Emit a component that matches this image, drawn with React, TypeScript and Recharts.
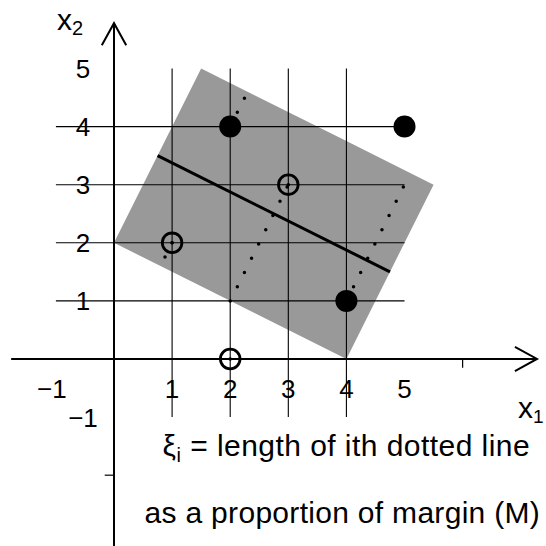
import { Area, ComposedChart, Line, Scatter, XAxis, YAxis } from "recharts"

// gray margin band, range area: corners (0,2) (1.5,5) (5.5,3) (4,0)
const bandX = [0, 1.5, 4, 5.5]
const bandLow = [2, 1.25, 0, 3]
const bandHigh = [2, 5, 3.75, 3]

// separating line
const boundaryX = [0.75, 4.75]
const boundaryY = [3.5, 1.5]

// points
const filledX = [2, 5, 4]
const filledY = [4, 4, 1]
const openX = [1, 3, 2]
const openY = [2, 3, 0]

// dotted slack segments, start -> end
const slackX0 = [2, 2, 1, 4]
const slackY0 = [4, 1, 2, 1]
const slackX1 = [2.3, 3, 0.8, 5.1]
const slackY1 = [4.6, 3, 1.6, 3.2]

// grid
const gridX = [1, 2, 3, 4]
const gridY = [1, 2, 3, 4]
const gridFrom = -1
const gridTo = 5

// tick labels and small tick marks
const xTicks = [-1, 1, 2, 3, 4, 5]
const yTicks = [5, 4, 3, 2, 1, -1]
const xMarks = [6]
const yMarks = [-2]

const noteLine1 = " = length of ith dotted line"
const noteLine2 = "as a proportion of margin (M)"

const X_DOMAIN = [-1.962, 7.435]
const Y_DOMAIN = [-3.219, 6.179]
const X_AXIS = [-1.77, 7.28]
const Y_AXIS = [-3.3, 5.78]
const NOTE_X = 3.93
const NOTE_Y = [-1.67, -2.82]

const FONT = "'Liberation Sans', Arial, Helvetica, sans-serif"

const fmt = (v: number) => (v < 0 ? `\u2212${-v}` : `${v}`)
const seg = (x0: number, y0: number, x1: number, y1: number) => [
    { x: x0, y: y0 },
    { x: x1, y: y1 },
]

const lineCommon = { dot: false, activeDot: false, isAnimationActive: false } as const

export default function App() {
    const band = bandX.map((x, i) => ({ x, band: [bandLow[i], bandHigh[i]] }))
    const boundary = boundaryX.map((x, i) => ({ x, y: boundaryY[i] }))
    const filled = filledX.map((x, i) => ({ x, y: filledY[i] }))
    const open = openX.map((x, i) => ({ x, y: openY[i] }))
    const xLabels = xTicks.map(x => ({ x, y: 0 }))
    const yLabels = yTicks.map(y => ({ x: 0, y }))
    const ah = 0.38
    const aw = 0.21

    return (
        <div style={{ position: "absolute", left: 0, top: 0, width: 546, height: 546, background: "#fff" }}>
            <ComposedChart width={546} height={546} margin={{ top: 0, right: 0, bottom: 0, left: 0 }}>
                <XAxis type="number" dataKey="x" domain={X_DOMAIN} allowDataOverflow hide />
                <YAxis type="number" dataKey="y" domain={Y_DOMAIN} allowDataOverflow hide />

                <Area
                    data={band}
                    dataKey="band"
                    type="linear"
                    fill="#999999"
                    fillOpacity={1}
                    stroke="none"
                    isAnimationActive={false}
                    activeDot={false}
                />

                {gridX.map(v => (
                    <Line key={"gx" + v} data={seg(v, gridFrom, v, gridTo)} dataKey="y" stroke="#000" strokeWidth={1.1} {...lineCommon} />
                ))}
                {gridY.map(v => (
                    <Line key={"gy" + v} data={seg(gridFrom, v, gridTo, v)} dataKey="y" stroke="#000" strokeWidth={1.1} {...lineCommon} />
                ))}

                {/* axes with arrow heads */}
                <Line data={seg(X_AXIS[0], 0, X_AXIS[1], 0)} dataKey="y" stroke="#000" strokeWidth={2} {...lineCommon} />
                <Line
                    data={[{ x: X_AXIS[1] - ah, y: aw }, { x: X_AXIS[1], y: 0 }, { x: X_AXIS[1] - ah, y: -aw }]}
                    dataKey="y" stroke="#000" strokeWidth={2} {...lineCommon}
                />
                <Line data={seg(0, Y_AXIS[0], 0, Y_AXIS[1])} dataKey="y" stroke="#000" strokeWidth={2} {...lineCommon} />
                <Line
                    data={[{ x: -aw, y: Y_AXIS[1] - ah }, { x: 0, y: Y_AXIS[1] }, { x: aw, y: Y_AXIS[1] - ah }]}
                    dataKey="y" stroke="#000" strokeWidth={2} {...lineCommon}
                />
                {xMarks.map(v => (
                    <Line key={"xm" + v} data={seg(v, 0, v, -0.15)} dataKey="y" stroke="#000" strokeWidth={1.2} {...lineCommon} />
                ))}
                {yMarks.map(v => (
                    <Line key={"ym" + v} data={seg(-0.16, v, 0, v)} dataKey="y" stroke="#000" strokeWidth={1.2} {...lineCommon} />
                ))}

                <Line data={boundary} dataKey="y" stroke="#000" strokeWidth={3} {...lineCommon} />

                {slackX0.map((x0, i) => (
                    <Line
                        key={"s" + i}
                        data={seg(x0, slackY0[i], slackX1[i], slackY1[i])}
                        dataKey="y"
                        stroke="#000"
                        strokeWidth={3.5}
                        strokeLinecap="round"
                        strokeDasharray="0 15.9"
                        {...lineCommon}
                    />
                ))}

                <Scatter
                    data={filled}
                    dataKey="y"
                    isAnimationActive={false}
                    shape={(p: any) => <circle cx={p.cx} cy={p.cy} r={11} fill="#000" />}
                />
                <Scatter
                    data={open}
                    dataKey="y"
                    isAnimationActive={false}
                    shape={(p: any) => (
                        <g>
                            <circle cx={p.cx} cy={p.cy} r={9.8} fill="none" stroke="#000" strokeWidth={2.8} />
                            <circle cx={p.cx} cy={p.cy} r={1.8} fill="#000" />
                        </g>
                    )}
                />

                {/* tick labels */}
                <Scatter
                    data={xLabels}
                    dataKey="y"
                    isAnimationActive={false}
                    shape={(p: any) => (
                        <text x={p.cx + (p.payload.x < 0 ? -4 : 0)} y={p.cy + 39} textAnchor="middle" fontFamily={FONT} fontSize={26} fill="#000">
                            {fmt(p.payload.x)}
                        </text>
                    )}
                />
                <Scatter
                    data={yLabels}
                    dataKey="y"
                    isAnimationActive={false}
                    shape={(p: any) => (
                        <text x={p.cx - 31} y={p.cy + 9.5} textAnchor="middle" fontFamily={FONT} fontSize={26} fill="#000">
                            {fmt(p.payload.y)}
                        </text>
                    )}
                />

                {/* axis titles */}
                <Scatter
                    data={[{ x: 0, y: Y_AXIS[1] }]}
                    dataKey="y"
                    isAnimationActive={false}
                    shape={(p: any) => (
                        <text x={p.cx - 57} y={p.cy + 7} fontFamily={FONT} fontSize={30} fill="#000">
                            x<tspan fontSize={20} dy={5}>2</tspan>
                        </text>
                    )}
                />
                <Scatter
                    data={[{ x: X_AXIS[1], y: 0 }]}
                    dataKey="y"
                    isAnimationActive={false}
                    shape={(p: any) => (
                        <text x={p.cx - 19} y={p.cy + 59} fontFamily={FONT} fontSize={30} fill="#000">
                            x<tspan fontSize={19} dy={5}>1</tspan>
                        </text>
                    )}
                />

                {/* note */}
                <Scatter
                    data={NOTE_Y.map(y => ({ x: NOTE_X, y }))}
                    dataKey="y"
                    isAnimationActive={false}
                    shape={(p: any) =>
                        p.index === 0 ? (
                            <text x={p.cx + 4} y={p.cy} textAnchor="middle" fontFamily={FONT} fontSize={30} letterSpacing={0.45} fill="#000">
                                ξ<tspan fontSize={20} dy={6}>i</tspan>
                                <tspan dy={-6}>{noteLine1}</tspan>
                            </text>
                        ) : (
                            <text x={p.cx} y={p.cy} textAnchor="middle" fontFamily={FONT} fontSize={30} letterSpacing={0.3} fill="#000">
                                {noteLine2}
                            </text>
                        )
                    }
                />
            </ComposedChart>
        </div>
    )
}
